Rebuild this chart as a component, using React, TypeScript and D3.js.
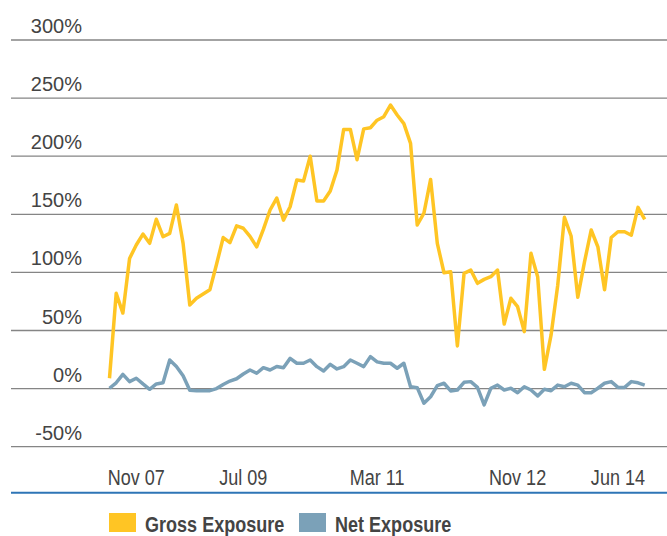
import React from 'react';
import * as d3 from 'd3';

const grossExposure = [
  8.9, 82, 65, 112, 123.6, 133, 125, 145.7, 130.7, 133.6,
  158, 125, 72, 77.7, 81.4, 85, 107, 130, 125.6, 140,
  138, 131, 122, 137, 153.7, 164, 145, 156.5, 179.5, 178.7,
  200, 161.4, 161.4, 170, 188, 223, 223, 197, 223.5, 224.5,
  231, 234, 244, 235.5, 228, 211, 140.8, 151, 180, 125,
  99.7, 100.6, 36.7, 99.2, 102, 90.6, 94, 96.3, 102, 55.6,
  77.7, 70.5, 49, 116.4, 96.3, 16.6, 46, 89, 147.4, 131.3,
  78.6, 109, 136.5, 122, 85, 130, 135, 135, 132, 156, 145.7,
];

const netExposure = [
  0.3, 5, 12.3, 6, 8.9, 4, -0.6, 4, 5, 24.6,
  19, 11, -1.5, -1.8, -1.8, -1.8, 0, 3.5, 6.5, 8.5,
  12.6, 16, 13.2, 18, 16, 19, 18, 26, 21.8, 21.8,
  24.6, 18.9, 15.1, 20.9, 16.9, 18.9, 24.6, 21.8, 18.9, 27.5,
  23, 21.8, 21.8, 17.5, 21.8, 1.6, 0.8, -12.6, -7, 2.5,
  4.6, -2, -1.2, 5.4, 6, 1, -14, 0.3, 3, -1.2,
  0.3, -3.5, 1.6, -1.2, -6.3, -0.6, -1.8, 3, 1.6, 4.6,
  3, -3.5, -3.5, 0.3, 4.6, 6, 1, 1, 6, 5, 3,
];

const xTickIndex = [4, 20, 40, 61, 76];
const xTickLabels = ['Nov 07', 'Jul 09', 'Mar 11', 'Nov 12', 'Jun 14'];
const yTicks = [-50, 0, 50, 100, 150, 200, 250, 300];

const seriesNames = ['Gross Exposure', 'Net Exposure'];
const seriesColors = ['#FFC524', '#7BA1B8'];

const W = 667;
const H = 536;
const gridLeft = 11;
const sans = "'Liberation Sans', Arial, sans-serif";
// no narrow face installed, so squeeze the regular one
const squeeze = 0.82;

export default function App() {
  const x = d3.scaleLinear().domain([0, grossExposure.length - 1]).range([109.5, 644.7]);
  const y = d3.scaleLinear().domain([-50, 300]).range([446.7, 40]);

  const line = d3.line<number>()
    .x((d, i) => x(i))
    .y(d => y(d));

  const axisY = 492.7;

  return (
    <svg width={W} height={H} style={{ position: 'fixed', left: 0, top: 0, background: '#fff' }}>
      {/* grid + y labels */}
      {yTicks.map(t => (
        <g key={t}>
          <line x1={gridLeft} x2={W} y1={y(t)} y2={y(t)} stroke="#858585" strokeWidth={1.3} />
          <text x={82} y={y(t) - 7} textAnchor="end" fontFamily={sans}
            fontSize={20} fill="#444">{t}%</text>
        </g>
      ))}

      <path d={line(grossExposure) || ''} fill="none" stroke={seriesColors[0]} strokeWidth={3.5} strokeLinejoin="round" />
      <path d={line(netExposure) || ''} fill="none" stroke={seriesColors[1]} strokeWidth={3.5} strokeLinejoin="round" />

      {/* x axis */}
      <line x1={gridLeft} x2={W} y1={axisY} y2={axisY} stroke="#2E75B6" strokeWidth={2} />
      {xTickIndex.map((idx, i) => (
        <text key={xTickLabels[i]} transform={`translate(${x(idx)},485) scale(${squeeze},1)`}
          textAnchor="middle" fontFamily={sans} fontSize={22} fill="#444">{xTickLabels[i]}</text>
      ))}

      {/* legend */}
      {seriesNames.map((name, i) => {
        const lx = i === 0 ? 109 : 299;
        return (
          <g key={name}>
            <rect x={lx} y={513} width={27} height={19} fill={seriesColors[i]} />
            <text transform={`translate(${lx + 36},532) scale(${squeeze},1)`}
              fontFamily={sans} fontWeight="bold" fontSize={22} fill="#444">{name}</text>
          </g>
        );
      })}
    </svg>
  );
}
